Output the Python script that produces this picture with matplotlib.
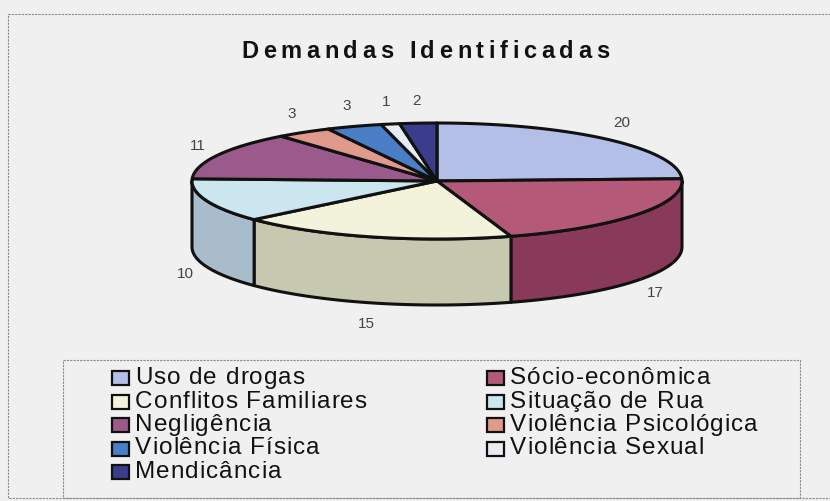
import numpy as np
import matplotlib
matplotlib.use("Agg")
import matplotlib.pyplot as plt
from matplotlib.patches import Polygon, Rectangle

# ---- data ----
categories = ["Uso de drogas", "Sócio-econômica", "Conflitos Familiares",
              "Situação de Rua", "Negligência", "Violência Psicológica",
              "Violência Física", "Violência Sexual", "Mendicância"]
values = [20, 17, 15, 10, 11, 3, 3, 1, 2]
title = "Demandas Identificadas"

top_colors = ["#b4bfe8", "#b45a78", "#f3f3dc", "#cce6f0", "#9a5a8c",
              "#e09a8c", "#4a7ec6", "#e8ecf2", "#3a3c8c"]
side_colors = ["#8e98c0", "#893a5a", "#c6c9b0", "#a8bccb", "#733e68",
               "#b07064", "#345e9a", "#b8bcc4", "#28286a"]

plt.rcParams['font.family'] = ['Liberation Sans', 'DejaVu Sans']

fig = plt.figure(figsize=(8.30, 5.01), dpi=100)
fig.patch.set_facecolor("#f0f0f0")
ax = fig.add_axes([0, 0, 1, 1])
ax.set_xlim(0, 830)
ax.set_ylim(501, 0)
ax.axis("off")
renderer = fig.canvas.get_renderer()


def tracked_text(s, x, y, fs, track, ha="left", **kw):
    """Draw a string character by character with extra letter spacing."""
    widths = []
    for ch in s:
        probe = "a" if ch == " " else ch
        t = ax.text(0, 0, probe, fontsize=fs, **kw)
        w = t.get_window_extent(renderer).width
        t.remove()
        widths.append(w * 0.5 if ch == " " else w)
    total_w = sum(widths) + track * (len(s) - 1)
    if ha == "center":
        x = x - total_w / 2
    for ch, w in zip(s, widths):
        if ch != " ":
            ax.text(x, y, ch, ha="left", va="center", fontsize=fs, **kw)
        x += w + track


# outer chart frame
ax.add_patch(Rectangle((8, 14), 830, 484, fill=False, ec="#8a8a8a",
                       lw=0.8, ls=(0, (2, 1))))

tracked_text(title, 425, 51, 17, 4.6, ha="center", fontweight="bold",
             color="#111111")

# ---- 3D pie geometry ----
cx, cy, rx, ry, th = 437, 181, 245, 58, 66
total = float(sum(values))
angles = [90.0]
for v in values:
    angles.append(angles[-1] - 360.0 * v / total)


def pt(deg, dy=0.0):
    r = np.deg2rad(deg)
    return cx + rx * np.cos(r), cy - ry * np.sin(r) + dy


lw = 2.2
# side walls (front half)
for i in range(len(values)):
    a0, a1 = angles[i], angles[i + 1]
    for shift in (0, -360, 360):
        s0, s1 = a0 + shift, a1 + shift
        lo, hi = max(s1, -180.0), min(s0, 0.0)
        if hi - lo > 0.01:
            ts = np.linspace(hi, lo, 60)
            topp = [pt(t) for t in ts]
            botp = [pt(t, th) for t in ts[::-1]]
            ax.add_patch(Polygon(topp + botp, closed=True,
                                 fc=side_colors[i], ec="#111111", lw=lw,
                                 joinstyle="round"))

# top wedges
for i in range(len(values)):
    a0, a1 = angles[i], angles[i + 1]
    ts = np.linspace(a0, a1, max(4, int(abs(a0 - a1) * 2)))
    poly = [(cx, cy)] + [pt(t) for t in ts]
    ax.add_patch(Polygon(poly, closed=True, fc=top_colors[i],
                         ec="#111111", lw=lw, joinstyle="round"))

# data labels
for i, v in enumerate(values):
    mid = (angles[i] + angles[i + 1]) / 2.0
    r = np.deg2rad(mid)
    x, y = pt(mid, th if np.sin(r) < 0 else 0)
    x += 22 * np.cos(r)
    y -= 22 * np.sin(r)
    ax.text(x, y, str(v), ha="center", va="center", fontsize=11,
            color="#444444")

# ---- legend ----
ax.add_patch(Rectangle((63, 360), 737, 138, fill=False, ec="#8a8a8a",
                       lw=0.8, ls=(0, (2, 1))))
col_x = [112, 487]
row_y0, row_dy = 378, 23.5
for i, name in enumerate(categories):
    col = i % 2
    row = i // 2
    x = col_x[col]
    y = row_y0 + row * row_dy
    ax.add_patch(Rectangle((x, y - 7), 17, 14, fc=top_colors[i],
                           ec="#111111", lw=1.6))
    tracked_text(name, x + 23, y, 17.5, 1.0, color="#111111")

fig.savefig("out.png", dpi=100, facecolor=fig.get_facecolor())
